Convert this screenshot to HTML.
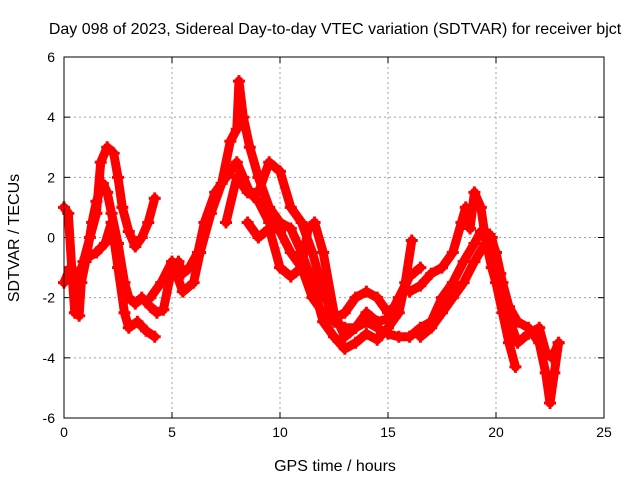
<!DOCTYPE html>
<html><head><meta charset="utf-8"><style>
body{margin:0;background:#fff;}
svg{display:block;font-family:"Liberation Sans",sans-serif;}
</style></head><body>
<svg id="chart" width="640" height="480"></svg>
<script>
const xTicks=[0,5,10,15,20,25];
const yTicks=[-6,-4,-2,0,2,4,6];
const trackA_t=[0,0.2,0.4,0.5,0.7,0.8,1.0,1.3,1.5,1.8,2.0,2.2,2.5,2.8,3.0,3.3,3.6,4.0,4.3,4.6,5,5.3,5.5,5.8,6.2,6.5,7,7.5,8,8.3,8.6,9,9.5,10,10.5,11,11.5,12,12.5,13,13.5,14,14.5,15,15.5,16,16.5,17,17.5,18,18.5,19,19.3,19.7,20,20.3,20.6,21,21.5,22,22.3,22.5,22.7,22.9];
const trackA_v=[1.0,0.8,-1.5,-2.5,-2.6,-1.5,-0.8,0.5,1.2,1.8,1.5,0.8,-0.2,-1.5,-2.0,-2.2,-2.0,-2.3,-2.5,-2.4,-1.0,-0.8,-1.2,-1.0,-0.5,0.5,1.5,2.0,2.5,2.0,1.5,1.2,0.5,0.2,-0.5,-1.0,-2,-2.5,-2.8,-3,-3.0,-2.8,-3,-3.2,-3.3,-3.3,-3,-2.8,-2,-1.5,-0.8,-0.2,0.2,0.1,-0.5,-1.5,-2.3,-2.8,-3,-3.5,-4.5,-5.5,-4.5,-3.5];
const trackB_t=[0,0.3,0.6,0.9,1.2,1.5,1.7,2,2.3,2.5,2.7,3,3.3,3.6,3.9,4.2];
const trackB_v=[-1.5,-1.0,-2.0,-0.8,0,0.8,2.5,3.0,2.8,2.0,1.0,0.2,-0.3,0,0.5,1.3];
const trackC_t=[0.5,1,1.5,1.9,2.2,2.5,2.8,3.0,3.4,3.8,4.2];
const trackC_v=[-1.5,-0.7,-0.5,-0.2,0.5,-1.0,-2.5,-3.0,-2.8,-3.1,-3.3];
const trackD_t=[4,4.5,5,5.5,6,6.3,6.8,7.3,7.7,8,8.1,8.3,8.6,9,9.5,10,10.5,11,11.5,12,12.5,13,13.5,14,14.5,15,15.5,15.8,16.1];
const trackD_v=[-2.0,-1.5,-0.8,-1.8,-1.5,-0.5,0.8,1.8,3.2,3.6,5.2,4.0,3.0,2.0,1.0,0.5,0.3,-0.5,-1.5,-2.8,-3.3,-3.7,-3.5,-3.2,-3.4,-3.0,-2.5,-1.5,-0.1];
const trackE_t=[7.5,8,8.5,9,9.5,10,10.5,11,11.5,12,12.5,13,13.5,14,14.5,15,15.3];
const trackE_v=[0.5,2.0,1.5,1.5,2.5,2.2,1.0,0.5,-0.5,-1.8,-2.7,-2.5,-2.0,-1.8,-2.0,-2.5,-2.3];
const trackF_t=[8.5,9,9.5,10,10.5,11,11.3,11.6,12,12.5,13,13.5,14,14.5,15,15.5,16,16.5];
const trackF_v=[0.5,0,0.3,-1,-1.3,-1.0,0.3,0.5,-0.5,-2.5,-3.3,-3.0,-2.5,-2.8,-2.7,-2.0,-1.3,-1.0];
const trackG_t=[16,16.5,17,17.5,18,18.4,18.6,18.8,19,19.3,19.5,19.8,20,20.3,20.6,20.9];
const trackG_v=[-1.8,-1.6,-1.2,-1.0,-0.5,0.5,1.0,0.3,1.5,1.0,0,-1,-1.5,-2.5,-3.5,-4.3];
const trackH_t=[16.5,17,17.5,18,18.5,19,19.5,19.8,20.2,20.5,21,21.5,22,22.3,22.6,22.9];
const trackH_v=[-3.3,-3,-2.5,-2,-1.5,-0.8,-0.2,0,-1.2,-2.5,-3.5,-3.2,-3.0,-3.8,-4.0,-3.5];

const L=64,R=604,T=57,B=418;
const X=t=>L+(t-0)/25*(R-L);
const Y=v=>B-(v+6)/12*(B-T);
const NS='http://www.w3.org/2000/svg';
const svg=document.getElementById('chart');
function mk(tag,attrs,parent){const e=document.createElementNS(NS,tag);for(const k in attrs)e.setAttribute(k,attrs[k]);(parent||svg).appendChild(e);return e;}

const grid=mk('g',{});


xTicks.forEach(t=>{
  if(t>0&&t<25){const l=mk('line',{x1:X(t),x2:X(t),y1:T,y2:B,stroke:'#a0a0a0','stroke-dasharray':'2,3'},grid);
  }
  mk('line',{x1:X(t),x2:X(t),y1:B,y2:B-6,stroke:'#000'},grid);
  mk('line',{x1:X(t),x2:X(t),y1:T,y2:T+6,stroke:'#000'},grid);
  const tx=mk('text',{x:X(t),y:B+19,'text-anchor':'middle','font-size':14},grid);tx.textContent=t;
  
});
yTicks.forEach(v=>{
  if(v>-6&&v<6){const l=mk('line',{x1:L,x2:R,y1:Y(v),y2:Y(v),stroke:'#a0a0a0','stroke-dasharray':'2,3'},grid);
  }
  mk('line',{x1:L,x2:L+6,y1:Y(v),y2:Y(v),stroke:'#000'},grid);
  mk('line',{x1:R,x2:R-6,y1:Y(v),y2:Y(v),stroke:'#000'},grid);
  const tx=mk('text',{x:L-9,y:Y(v)+5,'text-anchor':'end','font-size':14},grid);tx.textContent=v;
  
});

const tracks=[[trackA_t,trackA_v],[trackB_t,trackB_v],[trackC_t,trackC_v],[trackD_t,trackD_v],[trackE_t,trackE_v],[trackF_t,trackF_v],[trackG_t,trackG_v],[trackH_t,trackH_v]];
const series=mk('g',{});


tracks.forEach(([ts,vs])=>{
  const pts=ts.map((t,i)=>X(t)+','+Y(vs[i])).join(' ');
  const pl=mk('polyline',{points:pts,fill:'none',stroke:'#f00','stroke-width':9,'stroke-linejoin':'round','stroke-linecap':'round'},series);
  
  
  ts.forEach((t,i)=>{
    const x=X(t),y=Y(vs[i]);
    const p=mk('path',{d:`M${x-6},${y}H${x+6}M${x},${y-6}V${y+6}`,stroke:'#f00','stroke-width':3},series);
    
    
  });
});

const fr=mk('rect',{x:L,y:T,width:R-L,height:B-T,fill:'none',stroke:'#000','stroke-width':1});


const title=mk('text',{x:335,y:34,'text-anchor':'middle','font-size':16});
title.textContent='Day 098 of 2023, Sidereal Day-to-day VTEC variation (SDTVAR) for receiver bjct';


const xl=mk('text',{x:335,y:471,'text-anchor':'middle','font-size':16});
xl.textContent='GPS time / hours';


const yl=mk('text',{x:0,y:0,'text-anchor':'middle','font-size':16,transform:'translate(19,238) rotate(-90)'});
yl.textContent='SDTVAR / TECUs';


</script>
</body></html>
